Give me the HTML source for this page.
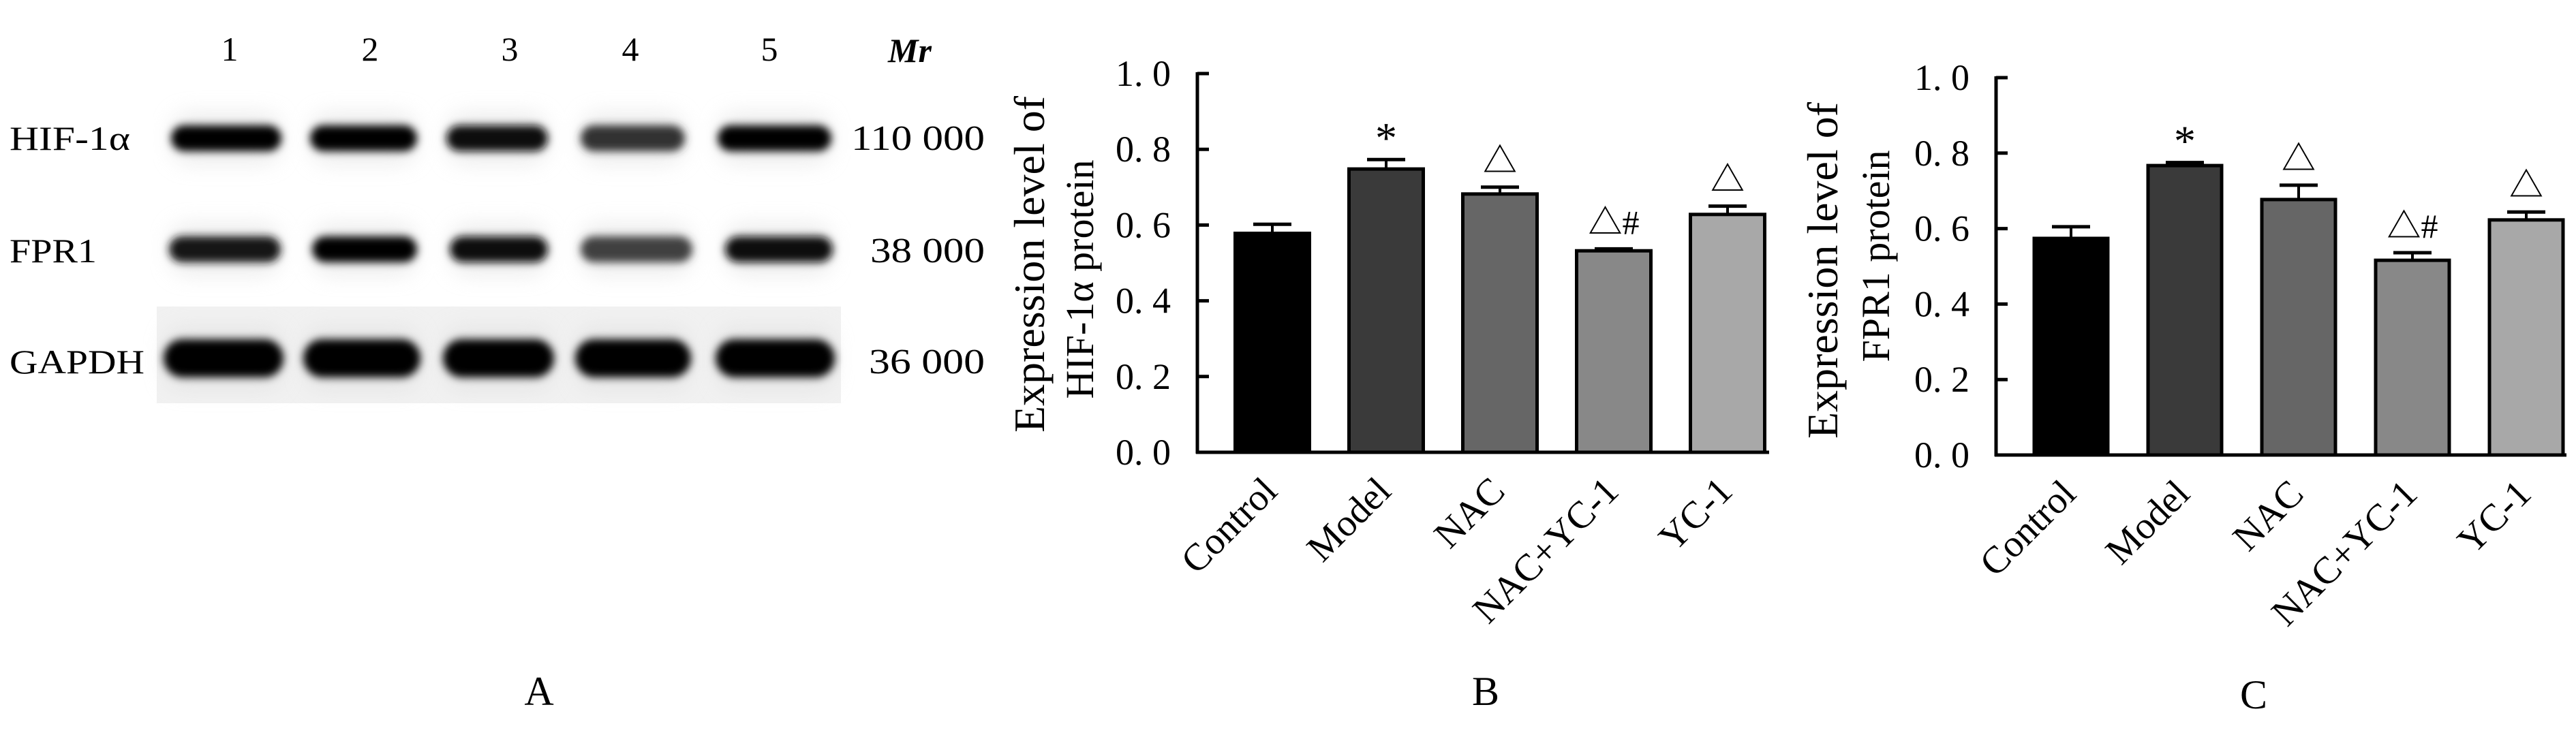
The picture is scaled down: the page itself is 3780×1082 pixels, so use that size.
<!DOCTYPE html>
<html><head><meta charset="utf-8"><style>
html,body{margin:0;padding:0;background:#fff;}
svg{display:block;}
text{font-family:"Liberation Serif","Noto Serif CJK SC",serif;fill:#000;}
</style></head><body>
<svg id="fig" width="3780" height="1082" viewBox="0 0 3780 1082" xmlns="http://www.w3.org/2000/svg">
<defs>
<filter id="blur" x="-20%" y="-80%" width="140%" height="260%"><feGaussianBlur stdDeviation="6"/></filter>
<filter id="halo" x="-20%" y="-80%" width="140%" height="260%"><feGaussianBlur stdDeviation="16"/></filter>
</defs>
<g id="panelA">
<rect x="230" y="450" width="1004" height="142" fill="#f1f1f1"/>
<g font-size="50">
<text x="337" y="89" text-anchor="middle">1</text>
<text x="543" y="89" text-anchor="middle">2</text>
<text x="748" y="89" text-anchor="middle">3</text>
<text x="925" y="89" text-anchor="middle">4</text>
<text x="1129" y="89" text-anchor="middle">5</text>
<text x="1335" y="91" text-anchor="middle" font-style="italic" font-weight="bold">Mr</text>
</g>
<text x="14" y="220" font-size="50" textLength="177" lengthAdjust="spacingAndGlyphs">HIF-1α</text>
<text x="14" y="385" font-size="50" textLength="128" lengthAdjust="spacingAndGlyphs">FPR1</text>
<text x="14" y="548" font-size="50" textLength="198" lengthAdjust="spacingAndGlyphs">GAPDH</text>
<text x="1249" y="220" font-size="52" textLength="196" lengthAdjust="spacingAndGlyphs">110 000</text>
<text x="1277" y="385" font-size="52" textLength="168" lengthAdjust="spacingAndGlyphs">38 000</text>
<text x="1275" y="548" font-size="52" textLength="170" lengthAdjust="spacingAndGlyphs">36 000</text>
<g id="bands"></g>
</g>
<g id="chartB"></g>
<g id="chartC"></g>
<text x="791" y="1035" font-size="60" text-anchor="middle">A</text>
<text x="2180" y="1035" font-size="60" text-anchor="middle">B</text>
<text x="3307" y="1040" font-size="60" text-anchor="middle">C</text>
</svg>
<script>
const categories = ["Control","Model","NAC","NAC+YC-1","YC-1"];
const hifValues = [0.578, 0.748, 0.682, 0.532, 0.628];
const hifErrors = [0.024, 0.025, 0.018, 0.005, 0.022];
const fprValues = [0.574, 0.767, 0.677, 0.516, 0.623];
const fprErrors = [0.031, 0.008, 0.038, 0.020, 0.021];
const marks = ["", "*", "△", "△#", "△"];
const yTicks = [0, 0.2, 0.4, 0.6, 0.8, 1.0];
const yTickLabels = ["0. 0","0. 2","0. 4","0. 6","0. 8","1. 0"];
const barFills = ["#000000","#3a3a3a","#666666","#888888","#a8a8a8"];
const NS = "http://www.w3.org/2000/svg";
function mk(tag, attrs, parent){const e=document.createElementNS(NS,tag);for(const k in attrs)e.setAttribute(k,attrs[k]);parent.appendChild(e);return e;}

const hifBands = [1.0, 1.0, 0.95, 0.8, 1.0];
const fprBands = [0.9, 1.0, 0.95, 0.75, 0.95];
const gapdhBands = [1.0, 1.0, 1.0, 1.0, 1.0];
(function(){
  const g=document.getElementById('bands');
  const rows=[{v:hifBands,y:184,h:38,lanes:[[251,413],[455,612],[655,804],[852,1005],[1053,1220]]},
              {v:fprBands,y:347,h:38,lanes:[[248,412],[458,612],[660,804],[852,1016],[1064,1222]]},
              {v:gapdhBands,y:498,h:56,lanes:[[240,416],[445,617],[650,813],[844,1014],[1050,1225]]}];
  rows.forEach(r=>{r.lanes.forEach((l,i)=>{
    const c=Math.round(255*(1-r.v[i]));
    const h=mk('rect',{x:l[0]+4,y:r.y-16,width:l[1]-l[0]-8,height:r.h+32,rx:20,fill:'#ddd',filter:'url(#halo)',opacity:0.6},g);
    
    
    const b=mk('rect',{x:l[0],y:r.y,width:l[1]-l[0],height:r.h,rx:r.h/2,fill:`rgb(${c},${c},${c})`,filter:'url(#blur)'},g);
    
    
  });});
})();

function drawChart(gid, values, errors, cfg){
  const g=document.getElementById(gid);
  const y=v=>cfg.y0 - (cfg.y0-cfg.y1)*v;
  const x=i=>cfg.x0 + cfg.pitch*i;
  values.forEach((v,i)=>{
    const cx=x(i);
    const b=mk('rect',{x:cx-cfg.bw/2,y:y(v),width:cfg.bw,height:cfg.y0-y(v),fill:barFills[i],stroke:'#000','stroke-width':5},g);
    
    
    const et=y(v+errors[i]);
    const e1=mk('line',{x1:cx,x2:cx,y1:y(v),y2:et,stroke:'#000','stroke-width':4},g);
    
    
    const e2=mk('line',{x1:cx-28,x2:cx+28,y1:et,y2:et,stroke:'#000','stroke-width':5},g);
    
    
    if(marks[i]){
      const t=mk('text',{x:cx,y:marks[i]==='*'?et-10:et-22,'text-anchor':'middle','font-size':marks[i]==='*'?64:50},g);
      t.textContent=marks[i];
      
      
    }
    const lb=mk('text',{x:cx+10,y:cfg.y0+60,'text-anchor':'end','font-size':56,transform:`rotate(-45 ${cx+10} ${cfg.y0+60})`},g);
    lb.textContent=categories[i];
    
    
  });
  const ya=mk('line',{x1:cfg.ax,x2:cfg.ax,y1:y(1)-2,y2:cfg.y0+2,stroke:'#000','stroke-width':5},g);
  
  
  const xa=mk('line',{x1:cfg.ax-2,x2:cfg.xEnd,y1:cfg.y0,y2:cfg.y0,stroke:'#000','stroke-width':5},g);
  
  
  yTicks.forEach((v,i)=>{
    const tk=mk('line',{x1:cfg.ax,x2:cfg.ax+17,y1:y(v),y2:y(v),stroke:'#000','stroke-width':5},g);
    
    
    const t=mk('text',{x:cfg.ax-39,y:y(v)+18,'text-anchor':'end','font-size':54},g);
    t.textContent=yTickLabels[i];
    
    
  });
  const t1=mk('text',{x:cfg.tx1,y:cfg.tcy,'text-anchor':'middle','font-size':64,transform:`rotate(-90 ${cfg.tx1} ${cfg.tcy})`},g);
  t1.textContent='Expression level of';
  
  
  const t2=mk('text',{x:cfg.tx2,y:cfg.tcy2,'text-anchor':'middle','font-size':58,transform:`rotate(-90 ${cfg.tx2} ${cfg.tcy2})`},g);
  t2.textContent=cfg.title2;
  
  
}
drawChart('chartB', hifValues, hifErrors, {y0:664,y1:108,x0:1867,pitch:167,bw:109,ax:1757,xEnd:2596,tx1:1532,tx2:1604,tcy:388,tcy2:410,title2:'HIF-1α protein'});
drawChart('chartC', fprValues, fprErrors, {y0:668,y1:114,x0:3039,pitch:167,bw:108,ax:2929,xEnd:3766,tx1:2696,tx2:2772,tcy:397,tcy2:376,title2:'FPR1 protein'});
</script>
</body></html>
